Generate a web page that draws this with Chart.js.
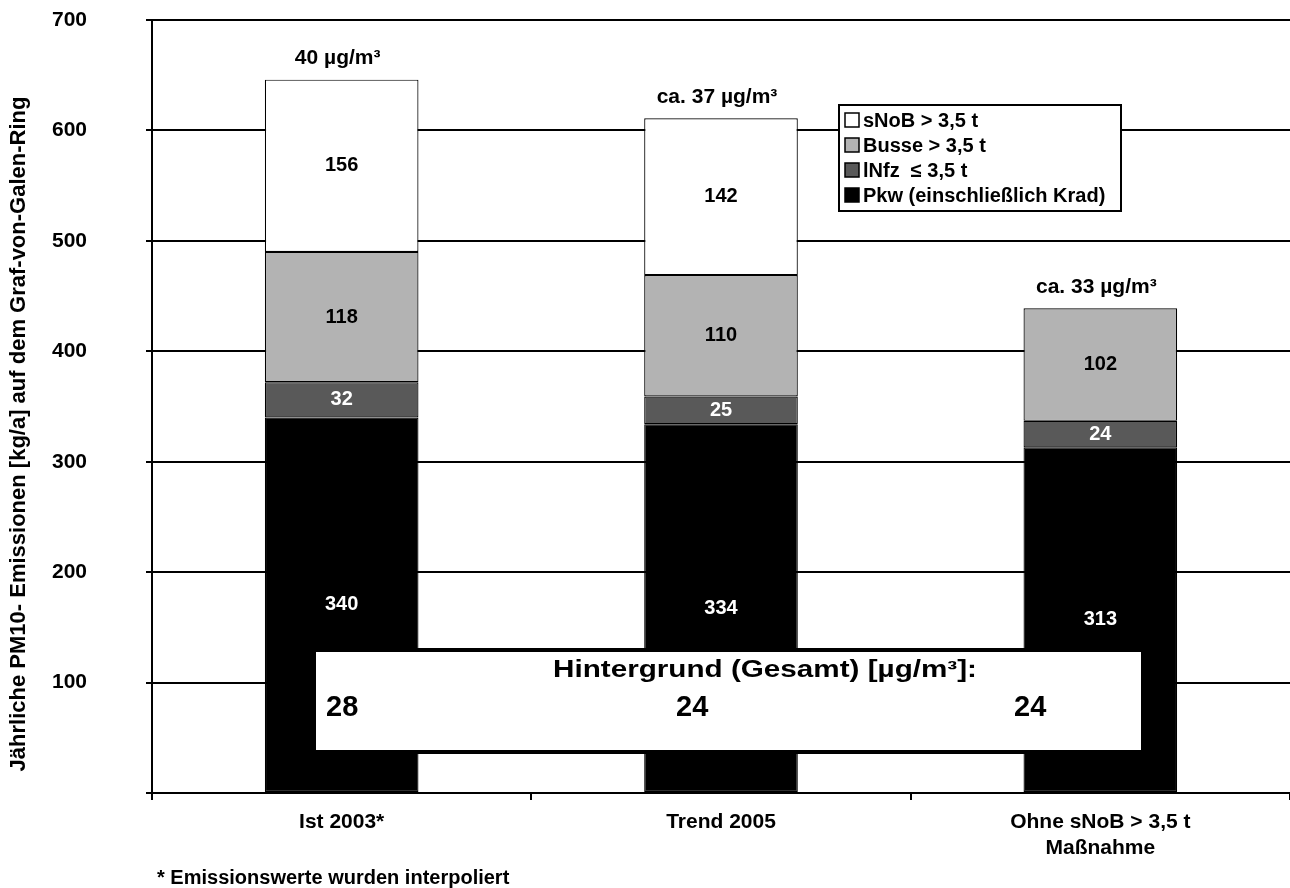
<!DOCTYPE html>
<html>
<head>
<meta charset="utf-8">
<script src="https://cdn.jsdelivr.net/npm/chart.js@4.4.0/dist/chart.umd.min.js"></script>
<style>
  body { margin: 0; background: #fff; }
  #wrap { width: 1290px; height: 888px; position: relative; }
</style>
</head>
<body>
<div id="wrap"><canvas id="pmChart"></canvas></div>
<script>
// Daten aus dem Diagramm
const kategorien = ["Ist 2003*", "Trend 2005", ["Ohne sNoB > 3,5 t", "Maßnahme"]];
const pkw = [340, 334, 313];
const lnfz = [32, 25, 24];
const busse = [118, 110, 102];
const snob = [156, 142, null];
const gesamtTexte = ["40 µg/m³", "ca. 37 µg/m³", "ca. 33 µg/m³"];
const hintergrundWerte = [28, 24, 24];
const hintergrundTitel = "Hintergrund (Gesamt) [µg/m³]:";
const yAchsenTitel = "Jährliche PM10- Emissionen [kg/a] auf dem Graf-von-Galen-Ring";
const fussnote = "* Emissionswerte wurden interpoliert";

const FONT = "Arial, 'Liberation Sans', sans-serif";
Chart.defaults.color = "#000";
Chart.defaults.font.family = FONT;
Chart.defaults.font.weight = "bold";

// Beschriftungen, Legende und Hintergrund-Kasten
const zusatzPlugin = {
  id: "zusatz",
  afterDatasetsDraw(chart) {
    const ctx = chart.ctx;
    const y = chart.scales.y;
    ctx.save();

    // Werte in den Segmenten
    ctx.textAlign = "center";
    ctx.textBaseline = "middle";
    ctx.font = "bold 20px " + FONT;
    chart.data.datasets.forEach((ds, i) => {
      const meta = chart.getDatasetMeta(i);
      meta.data.forEach((el, j) => {
        if (ds.data[j] == null) return;
        ctx.fillStyle = ds.labelColor;
        ctx.fillText(String(ds.data[j]), el.x, (el.y + el.base) / 2);
      });
    });

    // Gesamtwerte über den Säulen
    ctx.font = "bold 21px " + FONT;
    ctx.fillStyle = "#000";
    const meta0 = chart.getDatasetMeta(0);
    meta0.data.forEach((el, j) => {
      let sum = 0;
      chart.data.datasets.forEach((ds) => { sum += ds.data[j] || 0; });
      ctx.fillText(gesamtTexte[j], el.x - 4, y.getPixelForValue(sum) - 21);
    });

    // Hintergrund-Kasten
    ctx.fillStyle = "#fff";
    ctx.fillRect(316, 652, 825, 98);
    ctx.strokeStyle = "#000";
    ctx.lineWidth = 4;
    ctx.strokeRect(314, 650, 829, 102);
    ctx.fillStyle = "#000";
    ctx.textAlign = "left";
    ctx.font = "bold 23px " + FONT;
    const w = ctx.measureText(hintergrundTitel).width;
    ctx.save();
    ctx.translate(553, 671);
    ctx.scale(424 / w, 1);
    ctx.fillText(hintergrundTitel, 0, 0);
    ctx.restore();
    ctx.font = "bold 29px " + FONT;
    const hx = [326, 676, 1014];
    hintergrundWerte.forEach((v, j) => ctx.fillText(String(v), hx[j], 708));

    // Legende
    ctx.fillStyle = "#fff";
    ctx.fillRect(839, 105, 282, 106);
    ctx.lineWidth = 2;
    ctx.strokeRect(839, 105, 282, 106);
    ctx.font = "bold 20px " + FONT;
    const items = chart.data.datasets.slice().reverse();
    items.forEach((ds, k) => {
      const cy = 120 + k * 25;
      ctx.fillStyle = ds.backgroundColor;
      ctx.fillRect(845, cy - 7, 14, 14);
      ctx.lineWidth = 1.5;
      ctx.strokeStyle = "#000";
      ctx.strokeRect(845, cy - 7, 14, 14);
      ctx.fillStyle = "#000";
      ctx.fillText(ds.label, 863, cy + 1);
    });

    // y-Achsentitel
    ctx.save();
    ctx.translate(19, 434);
    ctx.rotate(-Math.PI / 2);
    ctx.textAlign = "center";
    ctx.font = "bold 22px " + FONT;
    ctx.fillText(yAchsenTitel, 0, 0);
    ctx.restore();

    // Fußnote
    ctx.textAlign = "left";
    ctx.font = "bold 20px " + FONT;
    ctx.fillText(fussnote, 157, 878);

    ctx.restore();
  },
};

const ctx = document.getElementById("pmChart").getContext("2d");

new Chart(ctx, {
  type: "bar",
  data: {
    labels: kategorien,
    datasets: [
      {
        label: "Pkw (einschließlich Krad)",
        data: pkw,
        backgroundColor: "#000000",
        labelColor: "#fff",
      },
      {
        label: "lNfz  ≤ 3,5 t",
        data: lnfz,
        backgroundColor: "#595959",
        labelColor: "#fff",
      },
      {
        label: "Busse > 3,5 t",
        data: busse,
        backgroundColor: "#b3b3b3",
        labelColor: "#000",
      },
      {
        label: "sNoB > 3,5 t",
        data: snob,
        backgroundColor: "#ffffff",
        labelColor: "#000",
      },
    ],
  },
  options: {
    responsive: true,
    maintainAspectRatio: false,
    animation: false,
    layout: { padding: { top: 20, right: 0, left: 0, bottom: 0 } },
    datasets: {
      bar: {
        borderColor: "#000",
        borderWidth: 1.2,
        borderSkipped: false,
        categoryPercentage: 1,
        barPercentage: 0.405,
      },
    },
    plugins: {
      legend: { display: false },
      tooltip: { enabled: false },
    },
    scales: {
      x: {
        stacked: true,
        offset: true,
        afterFit: (s) => { s.height = 95; },
        grid: {
          offset: true,
          drawOnChartArea: false,
          color: "#000",
          lineWidth: 2,
          tickLength: 7,
        },
        border: { color: "#000", width: 2 },
        ticks: {
          font: { size: 21, weight: "bold" },
          padding: 10,
          maxRotation: 0,
          autoSkip: false,
        },
      },
      y: {
        stacked: true,
        min: 0,
        max: 700,
        afterFit: (s) => {
          s.width = 152;
          s.paddingTop = 10;
          s.paddingBottom = 10;
        },
        grid: {
          color: "#000",
          lineWidth: 2,
          tickLength: 6,
        },
        border: { color: "#000", width: 2 },
        ticks: {
          stepSize: 100,
          padding: 59,
          font: { size: 21, weight: "bold" },
          callback: (v) => (v === 0 ? "" : v),
        },
      },
    },
  },
  plugins: [zusatzPlugin],
});
</script>
</body>
</html>
